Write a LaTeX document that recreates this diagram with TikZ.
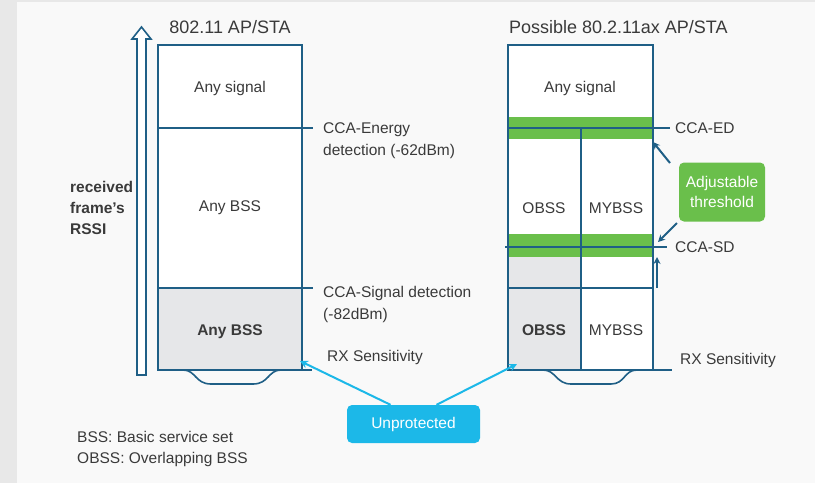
\documentclass[tikz,border=0pt]{standalone}
\usepackage{fontspec}
\setmainfont{Liberation Sans}
\usetikzlibrary{arrows.meta}
\definecolor{bgc}{HTML}{F9F9F9}
\definecolor{stripc}{HTML}{E8E8E8}
\definecolor{linec}{HTML}{1F5F86}
\definecolor{greenc}{HTML}{6ABF4B}
\definecolor{cyanc}{HTML}{1CB8E8}
\definecolor{grayfill}{HTML}{E6E7E9}
\definecolor{txt}{HTML}{3A3A3A}
\tikzset{
  bline/.style={draw=linec, line width=2pt},
  lbl/.style={text=txt, inner sep=0pt, font=\fontsize{15.5}{22}\selectfont},
  lblw/.style={lbl, anchor=west, align=left},
  title/.style={text=txt, inner sep=0pt, font=\fontsize{18}{22}\selectfont},
  tagbox/.style={rounded corners=5pt, text=white, inner sep=0pt, font=\fontsize{15.5}{20}\selectfont, align=center},
  darr/.style={draw=linec, line width=2pt, -{Stealth[length=7pt,width=7pt]}},
  carr/.style={draw=cyanc, line width=2pt, -{Stealth[length=8pt,width=8pt]}}
}
\begin{document}
\begin{tikzpicture}[x=1pt,y=-1pt]
\useasboundingbox (0,0) rectangle (815,483);
\fill[bgc] (0,0) rectangle (815,483);
\fill[stripc] (0,0) rectangle (17,483);
\fill[stripc] (0,0) rectangle (815,2);

% ---------- left column ----------
\node[title] (t1) at (230,27) {802.11 AP/STA};
\fill[white] (158,45) rectangle (302,288);
\fill[grayfill] (158,288) rectangle (302,370);
\draw[bline] (158,45) rectangle (302,370);
\draw[bline] (158,128) -- (313,128);
\draw[bline] (158,288) -- (313,288);
\draw[bline] (158,370) -- (312,370);
\draw[bline, line width=1.6pt] (183,370) .. controls (196,370) and (195,384) .. (211,384) -- (253,384) .. controls (269,384) and (268,370) .. (281,370);

\node[lbl] (as1) at (230,88) {Any signal};
\node[lbl] (ab1) at (230,208) {Any BSS};
\node[lbl, font=\fontsize{15.5}{22}\selectfont\bfseries] (ab2) at (230,332) {Any BSS};

\node[lblw] (ed1) at (323,141) {CCA-Energy\\detection (-62dBm)};
\node[lblw] (sd1) at (323,304) {CCA-Signal detection\\(-82dBm)};
\node[lblw] (rx1) at (327,357) {RX Sensitivity};

% RSSI arrow
\draw[draw=linec, line width=1.6pt, fill=white, line join=miter]
  (137,375) -- (137,39) -- (132,39) -- (141.5,27) -- (151,39) -- (146,39) -- (146,375) -- cycle;
\node[lblw, font=\fontsize{15.5}{21}\selectfont\bfseries] (rssi) at (70,208) {received\\frame's\\RSSI};

% ---------- right column ----------
\node[title, anchor=west] (t2) at (509,27) {Possible 80.2.11ax AP/STA};
\fill[white] (508,45) rectangle (653,370);
\fill[greenc] (508,117) rectangle (653,139);
\fill[greenc] (508,234) rectangle (653,257);
\fill[grayfill] (508,257) rectangle (581,370);
\draw[bline] (508,45) rectangle (653,370);
\draw[bline] (581,128) -- (581,370);
\draw[bline] (508,128) -- (670,128);
\draw[bline] (505,247) -- (667,247);
\draw[bline] (508,288) -- (653,288);
\draw[bline] (508,370) -- (672,370);
\draw[bline, line width=1.6pt] (543,370) .. controls (556,370) and (556,384) .. (571,384) -- (611,384) .. controls (625,384) and (624,370) .. (637,370);

\node[lbl] (as2) at (580,88) {Any signal};
\node[lbl] (ob1) at (544,208) {OBSS};
\node[lbl] (my1) at (616,208) {MYBSS};
\node[lbl, font=\fontsize{15.5}{22}\selectfont\bfseries] (ob2) at (544,330) {OBSS};
\node[lbl] (my2) at (616,330) {MYBSS};

\node[lblw] (ed2) at (675,128) {CCA-ED};
\node[lblw] (sd2) at (675,247) {CCA-SD};
\node[lblw] (rx2) at (680,360) {RX Sensitivity};

% adjustable threshold
\node[tagbox, fill=greenc, minimum width=86pt, minimum height=59pt] (adj) at (722,192) {Adjustable\\threshold};
\coordinate (edtip) at (653,142);
\coordinate (sdtip) at (658,242);
\coordinate (upbase) at (657,288);
\coordinate (uptip) at (657,257);
\draw[darr] (670,163) -- (edtip);
\draw[darr] (677,223) -- (sdtip);
\draw[darr] (upbase) -- (uptip);

% unprotected
\node[tagbox, fill=cyanc, minimum width=133pt, minimum height=38pt] (unp) at (413.5,424) {Unprotected};
\coordinate (ltip) at (300,361);
\coordinate (rtip) at (517,364);
\draw[carr] ([xshift=-23pt]unp.north) -- (ltip);
\draw[carr] ([xshift=23pt]unp.north) -- (rtip);

% legend
\node[lblw] (leg1) at (77,437) {BSS: Basic service set};
\node[lblw] (leg2) at (77,459) {OBSS: Overlapping BSS};
\end{tikzpicture}
\end{document}
